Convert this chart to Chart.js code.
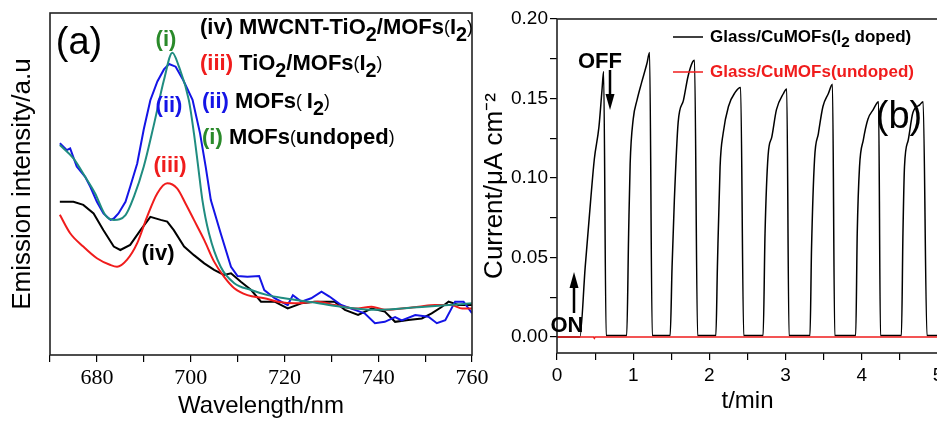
<!DOCTYPE html>
<html>
<head>
<meta charset="utf-8">
<script src="https://cdn.jsdelivr.net/npm/chart.js@4.4.1/dist/chart.umd.min.js"></script>
<style>
    html, body { margin: 0; padding: 0; background: #fff; overflow: hidden; width: 937px; height: 422px; }
    #chartA { position: absolute; left: 0; top: 0; }
    #chartB { position: absolute; left: 470px; top: 0; }
</style>
</head>
<body>
<canvas id="chartA" width="500" height="422"></canvas>
<canvas id="chartB" width="480" height="422"></canvas>
<script>
// (a) emission spectra, intensity in a.u.
const wlUndoped = [672.1, 675.0, 677.5, 679.6, 681.8, 683.6, 686.1, 687.9, 690.0, 692.1, 694.3, 696.1, 697.5, 699.6, 700.7, 701.6, 702.5, 703.9, 706.4, 709.3, 712.9, 716.4, 720.0, 726.0, 732.1, 739.3, 745.0, 750.0, 755.0, 760.0];
const intUndoped = [61.4, 57.5, 52.1, 47.3, 40.9, 39.5, 40.9, 46.3, 55.1, 67.0, 80.4, 88.4, 84.3, 74.6, 64.8, 55.1, 45.3, 35.6, 25.8, 21.0, 19.0, 17.5, 16.6, 15.4, 14.1, 13.2, 13.6, 14.1, 14.6, 15.1];

const wlMofsI2 = [672.1, 673.6, 674.3, 675.7, 677.5, 678.6, 680.0, 681.4, 682.9, 683.6, 684.6, 686.1, 687.1, 688.6, 690.0, 691.4, 692.9, 694.3, 695.4, 696.8, 698.4, 700.4, 702.0, 703.2, 704.3, 706.4, 708.6, 710.0, 712.1, 714.6, 715.7, 717.9, 720.7, 721.8, 723.6, 725.7, 727.9, 729.6, 732.1, 735.0, 737.1, 739.3, 741.4, 743.6, 745.0, 747.9, 750.7, 752.5, 754.3, 756.4, 758.2, 760.0];
const intMofsI2 = [61.9, 59.9, 60.4, 55.1, 52.1, 49.2, 44.8, 41.4, 39.5, 39.9, 41.4, 44.8, 49.2, 56.0, 66.0, 74.5, 80.0, 83.5, 85.1, 84.3, 80.4, 74.6, 64.8, 55.1, 45.3, 35.6, 25.8, 23.1, 22.9, 23.1, 19.0, 16.6, 14.6, 17.5, 15.6, 16.6, 18.5, 17.1, 14.6, 13.2, 12.2, 9.3, 9.7, 11.1, 10.1, 11.7, 11.2, 9.3, 10.2, 15.6, 15.6, 12.2];

const wlTiO2 = [672.1, 674.3, 677.1, 680.0, 682.9, 684.3, 686.4, 688.6, 690.7, 692.9, 695.0, 697.1, 698.9, 700.7, 702.9, 705.0, 707.1, 709.3, 712.1, 715.7, 718.6, 722.1, 727.1, 730.7, 735.0, 738.6, 741.4, 745.0, 748.6, 752.1, 755.7, 757.9, 760.0];
const intTiO2 = [41.0, 35.6, 31.7, 28.3, 26.3, 25.8, 27.8, 32.7, 40.4, 47.3, 50.2, 48.7, 44.3, 39.5, 33.6, 27.3, 22.9, 19.5, 17.5, 16.6, 15.6, 15.1, 15.6, 14.6, 13.6, 14.1, 13.2, 13.6, 14.1, 14.6, 14.6, 13.6, 13.6];

const wlCnt = [672.1, 675.0, 677.1, 679.3, 681.4, 683.6, 685.0, 687.1, 689.3, 691.4, 693.6, 695.0, 696.4, 698.6, 700.7, 702.9, 705.0, 707.1, 708.6, 710.7, 712.9, 715.0, 717.9, 720.7, 723.6, 726.4, 728.6, 730.7, 732.9, 735.7, 738.6, 741.4, 743.6, 746.4, 749.3, 751.4, 753.6, 755.0, 757.1, 760.0];
const intCnt = [44.8, 44.8, 43.9, 41.4, 36.5, 31.7, 30.7, 32.2, 36.5, 40.4, 39.5, 39.0, 36.5, 31.7, 29.2, 26.8, 24.9, 23.4, 23.9, 21.4, 19.0, 15.6, 15.6, 13.6, 15.1, 15.6, 15.6, 15.6, 13.2, 11.7, 13.6, 12.7, 9.7, 10.2, 10.7, 12.2, 14.1, 15.6, 14.6, 14.6];

const xTicksA = [670, 680, 690, 700, 710, 720, 730, 740, 750, 760];
const xLabelsA = [680, 700, 720, 740, 760];

// (b) photocurrent on/off cycles
const timeDoped = [0, 0.30, 0.37, 0.44, 0.49, 0.55, 0.59, 0.612, 0.645,
    0.915, 0.94, 0.96, 1.00, 1.05, 1.11, 1.18, 1.215, 1.25,
    1.485, 1.51, 1.54, 1.59, 1.66, 1.72, 1.78, 1.805, 1.845,
    2.085, 2.105, 2.14, 2.18, 2.25, 2.34, 2.41, 2.45,
    2.705, 2.73, 2.77, 2.82, 2.88, 2.97, 3.015, 3.045,
    3.32, 3.34, 3.38, 3.43, 3.49, 3.56, 3.615, 3.645,
    3.92, 3.94, 3.97, 4.02, 4.08, 4.15, 4.22, 4.245,
    4.52, 4.54, 4.56, 4.61, 4.67, 4.76, 4.805, 4.855, 5.0];
const currentDoped = [0, 0, 0.044, 0.085, 0.112, 0.132, 0.155, 0.167, 0.001,
    0.001, 0.065, 0.109, 0.137, 0.149, 0.160, 0.172, 0.179, 0.001,
    0.001, 0.044, 0.086, 0.135, 0.149, 0.164, 0.173, 0.174, 0.001,
    0.001, 0.044, 0.107, 0.128, 0.145, 0.154, 0.157, 0.001,
    0.001, 0.065, 0.114, 0.126, 0.143, 0.153, 0.156, 0.001,
    0.001, 0.055, 0.112, 0.128, 0.145, 0.153, 0.159, 0.001,
    0.001, 0.065, 0.107, 0.124, 0.137, 0.143, 0.148, 0.001,
    0.001, 0.065, 0.107, 0.124, 0.141, 0.146, 0.148, 0.001, 0.001];
const timeUndoped = [0, 0.48, 0.49, 0.50, 5.0];
const currentUndoped = [0, 0, -0.0008, 0, 0];

const xTicksB = [0, 0.5, 1, 1.5, 2, 2.5, 3, 3.5, 4, 4.5, 5];
const xLabelsB = [0, 1, 2, 3, 4, 5];
const yTicksB = [0, 0.025, 0.05, 0.075, 0.1, 0.125, 0.15, 0.175, 0.2];
const yLabelsB = [0, 0.05, 0.1, 0.15, 0.2];

const SANS = "'Liberation Sans', Arial, sans-serif";
Chart.defaults.font.family = SANS;
Chart.defaults.color = '#000';

function pts(xs, ys) {
    return xs.map((x, i) => ({ x: x, y: ys[i] }));
}

function fixedTicks(list) {
    return function(scale) {
        scale.ticks = list.map(v => ({ value: v }));
    };
}

function noPad(size, key) {
    return function(scale) {
        scale[key] = size;
        scale.paddingLeft = 0;
        scale.paddingRight = 0;
        scale.paddingTop = 0;
        scale.paddingBottom = 0;
    };
}

const frame = {
    id: 'frame',
    afterDatasetsDraw(chart) {
        const { ctx, chartArea: a } = chart;
        ctx.save();
        ctx.strokeStyle = '#222';
        ctx.lineWidth = 1.6;
        ctx.strokeRect(a.left, a.top, a.right - a.left, a.bottom - a.top);
        ctx.restore();
    }
};

// draws a line of text made of coloured / subscript pieces
function richText(ctx, x, y, parts, size) {
    let cx = x;
    ctx.textBaseline = 'middle';
    ctx.textAlign = 'left';
    parts.forEach(p => {
        let s = size;
        if (p.small) s = size * 0.8;
        if (p.sub) s = size * 0.9;
        ctx.font = (p.small ? '' : 'bold ') + s + 'px ' + SANS;
        ctx.fillStyle = p.c || '#000';
        ctx.fillText(p.t, cx, y + (p.sub ? size * 0.32 : 0));
        cx += ctx.measureText(p.t).width;
    });
}

function arrow(ctx, x, y1, y2) {
    const dir = y2 > y1 ? 1 : -1;
    ctx.save();
    ctx.strokeStyle = '#000';
    ctx.fillStyle = '#000';
    ctx.lineWidth = 2.5;
    ctx.beginPath();
    ctx.moveTo(x, y1);
    ctx.lineTo(x, y2 - dir * 10);
    ctx.stroke();
    ctx.beginPath();
    ctx.moveTo(x, y2);
    ctx.lineTo(x - 4.5, y2 - dir * 16);
    ctx.lineTo(x + 4.5, y2 - dir * 16);
    ctx.closePath();
    ctx.fill();
    ctx.restore();
}

const GREEN = '#2a8a2a';
const TEAL = '#1f8c80';
const RED = '#f01c1c';
const BLUE = '#1414e6';

const labelsA = {
    id: 'labelsA',
    afterDraw(chart) {
        const ctx = chart.ctx;
        ctx.save();
        ctx.textBaseline = 'middle';
        ctx.textAlign = 'center';
        ctx.fillStyle = '#000';
        ctx.font = '38px ' + SANS;
        ctx.fillText('(a)', 79, 44);

        ctx.font = 'bold 22px ' + SANS;
        ctx.fillStyle = GREEN;
        ctx.fillText('(i)', 166, 40);
        ctx.fillStyle = BLUE;
        ctx.fillText('(ii)', 169, 106);
        ctx.fillStyle = RED;
        ctx.fillText('(iii)', 170, 166);
        ctx.fillStyle = '#000';
        ctx.fillText('(iv)', 158, 254);

        richText(ctx, 200, 28, [
            { t: '(iv) MWCNT-TiO' }, { t: '2', sub: true }, { t: '/MOFs' },
            { t: '(', small: true }, { t: 'I' }, { t: '2', sub: true }, { t: ')', small: true }
        ], 22);
        richText(ctx, 200, 64, [
            { t: '(iii)', c: RED }, { t: ' TiO' }, { t: '2', sub: true }, { t: '/MOFs' },
            { t: '(', small: true }, { t: 'I' }, { t: '2', sub: true }, { t: ')', small: true }
        ], 22);
        richText(ctx, 202, 102, [
            { t: '(ii)', c: BLUE }, { t: ' MOFs' },
            { t: '( ', small: true }, { t: 'I' }, { t: '2', sub: true }, { t: ')', small: true }
        ], 22);
        richText(ctx, 202, 138, [
            { t: '(i)', c: GREEN }, { t: ' MOFs' },
            { t: '(', small: true }, { t: 'undoped' }, { t: ')', small: true }
        ], 22);
        ctx.restore();
    }
};

const labelsB = {
    id: 'labelsB',
    afterDraw(chart) {
        const ctx = chart.ctx;
        ctx.save();
        ctx.textBaseline = 'middle';
        ctx.textAlign = 'center';
        ctx.fillStyle = '#000';
        ctx.font = 'bold 22px ' + SANS;
        ctx.fillText('OFF', 130, 62);
        ctx.fillText('ON', 97, 326);
        arrow(ctx, 140, 70, 110);
        arrow(ctx, 104, 313, 272);

        ctx.font = '38px ' + SANS;
        ctx.fillText('(b)', 429, 118);

        // legend
        ctx.lineWidth = 1.5;
        ctx.strokeStyle = '#000';
        ctx.beginPath();
        ctx.moveTo(203, 37);
        ctx.lineTo(233, 37);
        ctx.stroke();
        ctx.strokeStyle = RED;
        ctx.beginPath();
        ctx.moveTo(203, 72);
        ctx.lineTo(233, 72);
        ctx.stroke();
        richText(ctx, 240, 37, [
            { t: 'Glass/CuMOFs(I' }, { t: '2', sub: true }, { t: ' doped)' }
        ], 17);
        richText(ctx, 240, 72, [
            { t: 'Glass/CuMOFs(undoped)', c: RED }
        ], 17);
        ctx.restore();
    }
};

function tickGrid() {
    return { display: true, drawOnChartArea: false, drawTicks: true, tickLength: 7, color: '#000', lineWidth: 1.2 };
}

new Chart(document.getElementById('chartA'), {
    type: 'line',
    data: {
        datasets: [
            { label: '(i) MOFs(undoped)', data: pts(wlUndoped, intUndoped), borderColor: TEAL, borderWidth: 2, cubicInterpolationMode: 'monotone' },
            { label: '(iii) TiO2/MOFs(I2)', data: pts(wlTiO2, intTiO2), borderColor: RED, borderWidth: 2, cubicInterpolationMode: 'monotone' },
            { label: '(ii) MOFs(I2)', data: pts(wlMofsI2, intMofsI2), borderColor: BLUE, borderWidth: 2, tension: 0 },
            { label: '(iv) MWCNT-TiO2/MOFs(I2)', data: pts(wlCnt, intCnt), borderColor: '#000', borderWidth: 2, tension: 0 }
        ]
    },
    options: {
        responsive: false,
        animation: false,
        elements: { point: { radius: 0 } },
        layout: { padding: { left: 0, top: 13, right: 28, bottom: 0 } },
        plugins: { legend: { display: false }, tooltip: { enabled: false } },
        scales: {
            x: {
                type: 'linear', min: 670, max: 760,
                afterBuildTicks: fixedTicks(xTicksA),
                afterFit: noPad(67, 'height'),
                grid: tickGrid(),
                border: { display: false },
                ticks: {
                    autoSkip: false, maxRotation: 0, padding: 3,
                    font: { family: 'Liberation Serif', size: 22 },
                    callback: v => xLabelsA.includes(v) ? String(v) : ''
                },
                title: { display: true, text: 'Wavelength/nm', font: { size: 24 }, padding: { top: 0, bottom: 1 } }
            },
            y: {
                min: 0, max: 100,
                afterFit: noPad(50, 'width'),
                grid: { display: false },
                border: { display: false },
                ticks: { display: false },
                title: { display: true, text: 'Emission intensity/a.u', font: { size: 26 }, padding: { top: 7, bottom: 0 } }
            }
        }
    },
    plugins: [frame, labelsA]
});

new Chart(document.getElementById('chartB'), {
    type: 'line',
    data: {
        datasets: [
            { label: 'Glass/CuMOFs(undoped)', data: pts(timeUndoped, currentUndoped), borderColor: RED, borderWidth: 1.5, tension: 0 },
            { label: 'Glass/CuMOFs(I2 doped)', data: pts(timeDoped, currentDoped), borderColor: '#000', borderWidth: 1.5, cubicInterpolationMode: 'monotone' }
        ]
    },
    options: {
        responsive: false,
        animation: false,
        elements: { point: { radius: 0 } },
        layout: { padding: { left: 0, top: 19, right: 12, bottom: 0 } },
        plugins: { legend: { display: false }, tooltip: { enabled: false } },
        scales: {
            x: {
                type: 'linear', min: 0, max: 5,
                afterBuildTicks: fixedTicks(xTicksB),
                afterFit: noPad(69, 'height'),
                grid: tickGrid(),
                border: { display: false },
                ticks: {
                    autoSkip: false, maxRotation: 0, padding: 4,
                    font: { size: 19 },
                    callback: v => xLabelsB.includes(v) ? String(v) : ''
                },
                title: { display: true, text: 't/min', font: { size: 24 }, padding: { top: 0, bottom: 6 } }
            },
            y: {
                min: -0.01, max: 0.2,
                afterBuildTicks: fixedTicks(yTicksB),
                afterFit: noPad(87, 'width'),
                grid: tickGrid(),
                border: { display: false },
                ticks: {
                    autoSkip: false, padding: 2,
                    font: { size: 19 },
                    callback: v => yLabelsB.includes(v) ? v.toFixed(2) : ''
                },
                title: { display: true, text: 'Current/\u03bcA cm\u207b\u00b2', font: { size: 26 }, padding: { top: 9, bottom: 0 } }
            }
        }
    },
    plugins: [frame, labelsB]
});
</script>
</body>
</html>
